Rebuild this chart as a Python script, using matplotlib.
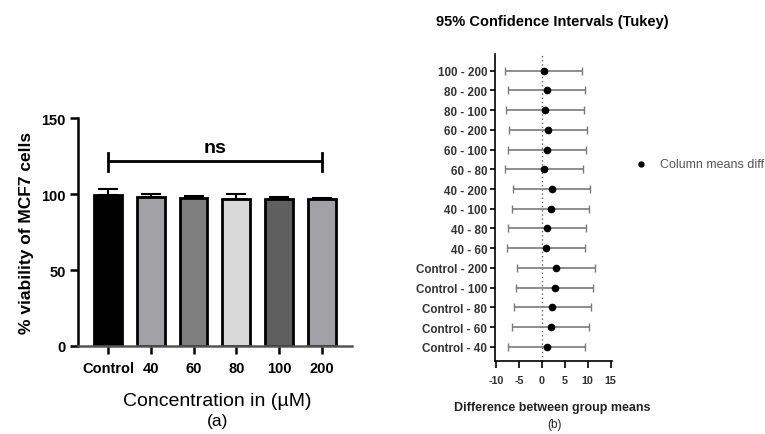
import matplotlib
matplotlib.use("Agg")
import matplotlib.pyplot as plt
import numpy as np

plt.rcParams['font.family'] = ['Liberation Sans', 'DejaVu Sans']
plt.rcParams['axes.unicode_minus'] = False

# Panel (a) data
conc = ["Control", "40", "60", "80", "100", "200"]
viability = [99.5, 98.0, 97.5, 97.0, 96.5, 96.5]
viability_err = [4.0, 2.0, 1.5, 3.0, 1.5, 1.0]
bar_colors = ["#000000", "#a2a2a6", "#7f7f7f", "#d9d9d9", "#5f5f5f", "#a2a2a6"]

# Panel (b) data (bottom to top)
pairs = ["Control - 40", "Control - 60", "Control - 80", "Control - 100", "Control - 200",
         "40 - 60", "40 - 80", "40 - 100", "40 - 200",
         "60 - 80", "60 - 100", "60 - 200",
         "80 - 100", "80 - 200", "100 - 200"]
mean_diff = [1.0, 1.9, 2.2, 2.8, 3.0,
             0.8, 1.1, 1.9, 2.1,
             0.4, 1.05, 1.3,
             0.7, 1.0, 0.35]
ci_low = [-7.5, -6.5, -6.2, -5.6, -5.4,
          -7.6, -7.5, -6.5, -6.4,
          -8.0, -7.5, -7.3,
          -7.8, -7.5, -8.0]
ci_high = [9.5, 10.2, 10.6, 11.2, 11.5,
           9.5, 9.6, 10.3, 10.5,
           8.9, 9.6, 9.9,
           9.2, 9.5, 8.8]

fig = plt.figure(figsize=(7.65, 4.35), dpi=100)

# ---- Panel (a)
ax = fig.add_axes([0.102, 0.2023, 0.358, 0.5241])
x = np.arange(len(conc))
ax.bar(x, viability, width=0.65, color=bar_colors, edgecolor="black", linewidth=2.0, zorder=2)
ax.errorbar(x, viability, yerr=[np.zeros(len(x)), viability_err], fmt="none",
            ecolor="black", elinewidth=1.5, capsize=7, capthick=1.5, zorder=1)
ax.set_xlim(-0.7, 5.7)
ax.set_ylim(0, 150)
ax.set_yticks([0, 50, 100, 150])
ax.set_xticks(x)
ax.set_xticklabels(conc)
for s in ["top", "right"]:
    ax.spines[s].set_visible(False)
ax.spines["left"].set_linewidth(1.8)
ax.spines["bottom"].set_linewidth(1.8)
ax.spines["bottom"].set_color("#555555")
ax.tick_params(axis="y", width=1.8, length=6, labelsize=10.5, pad=3)
ax.tick_params(axis="x", width=1.8, length=6, labelsize=10.5, pad=4.5)
for lab in ax.get_xticklabels() + ax.get_yticklabels():
    lab.set_fontweight("bold")
ax.set_ylabel("% viability of MCF7 cells", fontsize=12.5, fontweight="bold", labelpad=5)
fig.text(217 / 765, 1 - 402 / 435, "Concentration in (\u00b5M)", fontsize=14,
         ha="center", va="center")
fig.text(218 / 765, 1 - 422 / 435, "(a)", fontsize=12.5, ha="center", va="center")
# ns bracket
yb = 122
ax.plot([x[0], x[-1]], [yb, yb], color="black", lw=2)
ax.plot([x[0], x[0]], [yb - 7, yb + 5], color="black", lw=2)
ax.plot([x[-1], x[-1]], [yb - 7, yb + 5], color="black", lw=2)
ax.text((x[0] + x[-1]) / 2, yb + 3, "ns", ha="center", va="bottom", fontsize=14, fontweight="bold")

# ---- Panel (b)
bx = fig.add_axes([0.647, 0.168, 0.153, 0.706])
y = np.arange(len(pairs))
md = np.array(mean_diff)
lo = md - np.array(ci_low)
hi = np.array(ci_high) - md
bx.errorbar(md, y, xerr=[lo, hi], fmt="o", color="black", markersize=4.5,
            ecolor="#7a7a7a", elinewidth=1.2, capsize=3, capthick=1.0, label="Column means diff")
bx.axvline(0, color="#666666", linestyle=(0, (1, 2)), lw=1.0, zorder=0)
bx.set_xlim(-10.3, 15.3)
bx.set_ylim(-0.71, 14.85)
bx.set_xticks([-10, -5, 0, 5, 10, 15])
bx.set_yticks(y)
bx.set_yticklabels(pairs)
for s in ["top", "right"]:
    bx.spines[s].set_visible(False)
bx.spines["left"].set_linewidth(1.2)
bx.spines["bottom"].set_linewidth(1.2)
bx.tick_params(axis="y", width=1.2, length=3.5, labelsize=8.4, pad=2)
bx.tick_params(axis="x", width=1.2, length=5, labelsize=7.8, pad=5)
for lab in bx.get_xticklabels() + bx.get_yticklabels():
    lab.set_fontweight("bold")
    lab.set_color("#333333")
fig.text(552 / 765, 1 - 408 / 435, "Difference between group means", fontsize=9,
         fontweight="bold", color="#222222", ha="center", va="center")
fig.text(555 / 765, 1 - 425 / 435, "(b)", fontsize=8.5, color="#222222", ha="center", va="center")
fig.text(552 / 765, 1 - 22 / 435, "95% Confidence Intervals (Tukey)", fontsize=10.5,
         fontweight="bold", ha="center", va="center")
fig.text(660 / 765, 0.621, "Column means diff", fontsize=9, color="#555555", va="center", ha="left")
fig.lines.append(plt.Line2D([0.838], [0.621], marker="o", color="black", markersize=3.5,
                            transform=fig.transFigure))

fig.savefig("out.png", dpi=100)
